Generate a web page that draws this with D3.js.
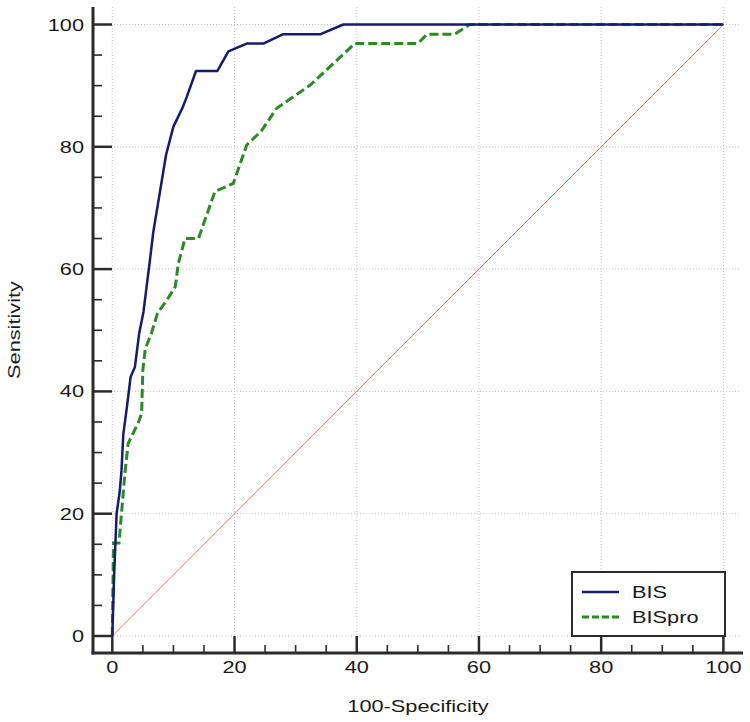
<!DOCTYPE html>
<html>
<head>
<meta charset="utf-8">
<script src="https://cdn.jsdelivr.net/npm/d3@7"></script>
<style>
  html, body { margin: 0; padding: 0; background: #fff; }
  svg { display: block; }
  text { font-family: "Liberation Sans", Arial, sans-serif; fill: #1a1a1a; }
</style>
</head>
<body>
<svg id="chart" width="750" height="722"></svg>
<script>
// ---- data ----
const bisX = [0, 0.3, 0.7, 1.2, 1.5, 1.8, 2.4, 3.0, 3.7, 4.4, 5.1, 6.1, 6.7, 8.8, 10.0, 11.5, 12.2, 13.7, 17.2, 19.0, 22.1, 24.8, 27.9, 34.0, 37.8, 100];
const bisY = [0, 10, 20, 23.5, 27, 33, 37.5, 42.4, 44, 49.5, 53, 61, 66, 78.7, 83.3, 86.4, 88.2, 92.4, 92.4, 95.6, 96.9, 96.9, 98.4, 98.4, 100, 100];
const bisproX = [0, 0.2, 1.1, 1.5, 2.1, 2.6, 4.3, 4.8, 5.0, 5.4, 6.4, 7.4, 8.9, 10.3, 10.8, 11.9, 14.1, 16.8, 19.8, 22.0, 24.4, 26.9, 32.4, 39.7, 50.0, 51.5, 56.0, 58.5, 100];
const bisproY = [0, 15.2, 15.2, 20, 27, 31.5, 35, 36.4, 43.5, 47, 49.5, 52.8, 54.9, 57.1, 60.9, 65, 65, 72.7, 74, 80.3, 82.6, 86.3, 90.1, 96.9, 96.9, 98.4, 98.4, 100, 100];
const refX = [0, 100];
const refY = [0, 100];
const majorTicks = [0, 20, 40, 60, 80, 100];
const minorTicks = d3.range(0, 101, 5).filter(v => v % 20 !== 0);
const seriesNames = ["BIS", "BISpro"];
const xTitle = "100-Specificity";
const yTitle = "Sensitivity";

// ---- layout ----
const svg = d3.select("#chart");
const x = d3.scaleLinear().domain([0, 100]).range([112.3, 723.4]);
const y = d3.scaleLinear().domain([0, 100]).range([636, 24.5]);
const axisLeftX = 93, axisBottomY = 653;
const plotTop = 7, plotRight = 741;
const stretch = 1.28;

// helper: horizontally stretched text
function sText(g, tx, ty, str, size, anchor, rot) {
  const t = g.append("g").attr("transform",
    `translate(${tx},${ty})` + (rot ? ` rotate(${rot})` : "") + ` scale(${stretch},1)`);
  t.append("text").attr("x", 0).attr("y", 0).attr("text-anchor", anchor)
    .attr("font-size", size).text(str);
  return t;
}

// gridlines
const grid = svg.append("g").attr("stroke", "#c4c4c4").attr("stroke-width", 1).attr("stroke-dasharray", "1,2");
grid.selectAll(".gv").data(majorTicks).enter().append("line")
  .attr("x1", d => x(d)).attr("x2", d => x(d)).attr("y1", plotTop).attr("y2", axisBottomY);
grid.selectAll(".gh").data(majorTicks).enter().append("line")
  .attr("y1", d => y(d)).attr("y2", d => y(d)).attr("x1", axisLeftX).attr("x2", plotRight);

// reference diagonal
svg.append("line")
  .attr("x1", x(refX[0])).attr("y1", y(refY[0]))
  .attr("x2", x(refX[1])).attr("y2", y(refY[1]))
  .attr("stroke", "#f07860").attr("stroke-width", 1);

// curves
const line = d3.line().x(d => x(d[0])).y(d => y(d[1]));
const bisData = bisX.map((v, i) => [v, bisY[i]]);
const bisproData = bisproX.map((v, i) => [v, bisproY[i]]);

svg.append("path").datum(bisproData).attr("d", line)
  .attr("fill", "none").attr("stroke", "#2a8a24").attr("stroke-width", 3)
  .attr("stroke-dasharray", "9,4");
svg.append("path").datum(bisData).attr("d", line)
  .attr("fill", "none").attr("stroke", "#151b6e").attr("stroke-width", 2.5)
  .attr("stroke-linejoin", "round");

// axes
const axisColor = "#2e2a28";
const ax = svg.append("g");
ax.append("line").attr("x1", axisLeftX).attr("x2", axisLeftX).attr("y1", plotTop).attr("y2", axisBottomY + 1.5)
  .attr("stroke", axisColor).attr("stroke-width", 3);
ax.append("line").attr("x1", axisLeftX - 1.5).attr("x2", plotRight + 2).attr("y1", axisBottomY).attr("y2", axisBottomY)
  .attr("stroke", axisColor).attr("stroke-width", 3);

// y ticks
ax.selectAll(".ymaj").data(majorTicks).enter().append("line")
  .attr("x1", axisLeftX).attr("x2", axisLeftX + 19).attr("y1", d => y(d)).attr("y2", d => y(d))
  .attr("stroke", axisColor).attr("stroke-width", 2.5);
ax.selectAll(".ymin").data(minorTicks).enter().append("line")
  .attr("x1", axisLeftX).attr("x2", axisLeftX + 9).attr("y1", d => y(d)).attr("y2", d => y(d))
  .attr("stroke", axisColor).attr("stroke-width", 1.6);
// x ticks
ax.selectAll(".xmaj").data(majorTicks).enter().append("line")
  .attr("y1", axisBottomY).attr("y2", axisBottomY - 17).attr("x1", d => x(d)).attr("x2", d => x(d))
  .attr("stroke", axisColor).attr("stroke-width", 2.5);
ax.selectAll(".xmin").data(minorTicks).enter().append("line")
  .attr("y1", axisBottomY).attr("y2", axisBottomY - 8).attr("x1", d => x(d)).attr("x2", d => x(d))
  .attr("stroke", axisColor).attr("stroke-width", 1.6);

// tick labels
const labels = svg.append("g");
majorTicks.forEach(d => sText(labels, 84, y(d) + 6, d, 17, "end"));
majorTicks.forEach(d => sText(labels, x(d), 673, d, 17, "middle"));

// titles
sText(svg, 418, 712, xTitle, 17, "middle");
sText(svg, 20, 330, yTitle, 17, "middle", -90);

// legend
const lg = svg.append("g");
lg.append("rect").attr("x", 572).attr("y", 572).attr("width", 153).attr("height", 64)
  .attr("fill", "#fff").attr("stroke", axisColor).attr("stroke-width", 2);
const legendStyles = [
  { color: "#151b6e", dash: null, w: 2.5 },
  { color: "#2a8a24", dash: "7,3", w: 3 }
];
seriesNames.forEach((name, i) => {
  const cy = 592 + i * 25;
  lg.append("line").attr("x1", 582).attr("x2", 619).attr("y1", cy).attr("y2", cy)
    .attr("stroke", legendStyles[i].color).attr("stroke-width", legendStyles[i].w)
    .attr("stroke-dasharray", legendStyles[i].dash);
  sText(lg, 632, cy + 6, name, 17, "start");
});
</script>
</body>
</html>
